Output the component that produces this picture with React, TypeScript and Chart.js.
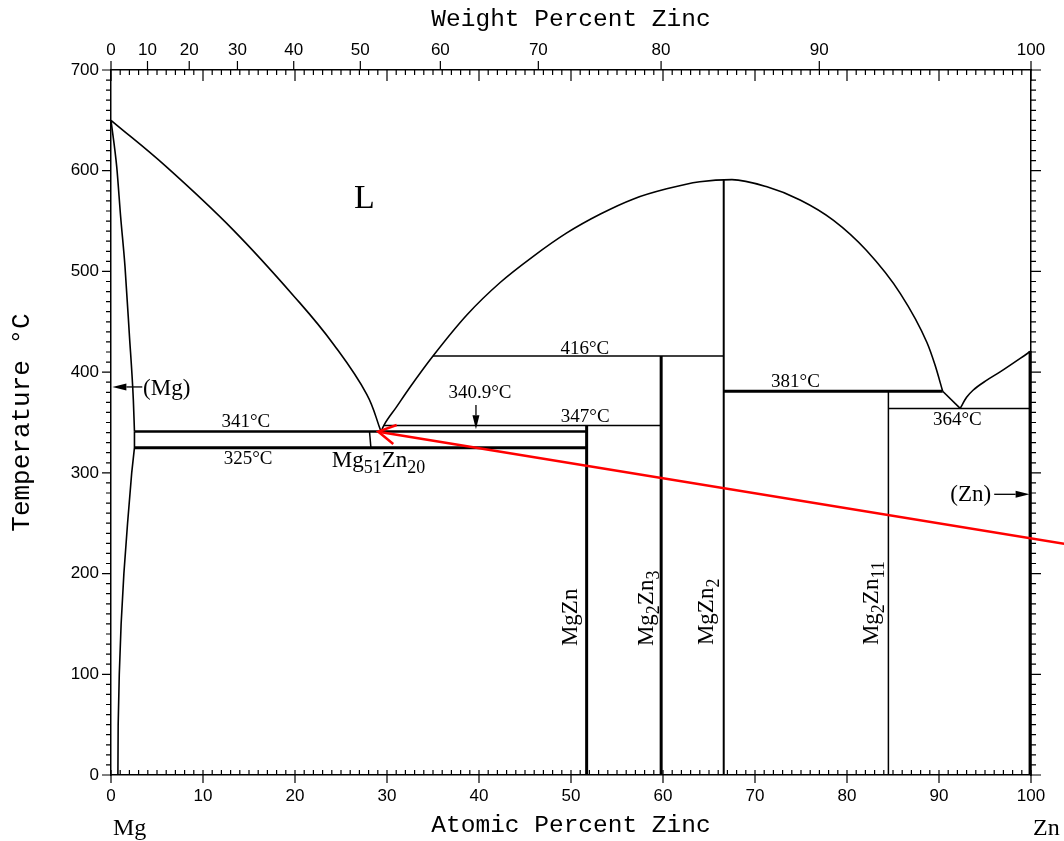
import React, { useEffect, useRef } from "react";
import { Chart, registerables } from "chart.js";
Chart.register(...registerables);

// ---- axis data ----
const MG_MASS = 24.305;
const ZN_MASS = 65.38;
const wtTicks = [0, 10, 20, 30, 40, 50, 60, 70, 80, 90, 100];
const wtToAt = (w: number) => {
  if (w >= 100) return 100;
  const a = w / ZN_MASS;
  const b = (100 - w) / MG_MASS;
  return (100 * a) / (a + b);
};
const wtTickPositions = wtTicks.map(wtToAt);

// ---- phase boundary data (atomic % Zn, °C) ----
const mgLiquidus = [[0, 650], [6.0, 604], [13.3, 541], [20.5, 469], [24.2, 427.5], [27.8, 378], [29.35, 341]];
const mgSolidus = [[0, 650], [0.62, 604], [1.05, 554], [1.52, 505], [1.99, 438], [2.43, 372], [2.55, 341]];
const mgSolvus = [[2.55, 341], [2.55, 325], [2.25, 300], [1.8, 250], [1.4, 200], [1.1, 150], [0.9, 100], [0.78, 50], [0.75, 0]];
const mgZn2Liquidus = [[29.35, 341], [29.65, 347], [31.0, 365], [32.5, 385], [35.0, 416], [38.7, 457], [42.3, 489], [45.9, 515], [49.5, 538], [53.2, 557], [56.8, 572], [60.4, 582], [64.0, 589], [67.5, 591.2], [71.3, 584], [74.9, 571], [78.5, 551], [82.1, 521], [85.8, 478], [88.7, 429.2], [89.57, 407], [90.4, 381]];
const znEutecticLeft = [[90.4, 381], [92.3, 364]];
const znLiquidus = [[92.3, 364], [93.0, 375], [93.7, 382], [95.2, 392], [96.6, 400], [100, 421]];
const line325 = [[2.55, 325], [51.7, 325]];
const line341 = [[2.55, 341], [51.7, 341]];
const line347 = [[29.65, 347], [59.8, 347]];
const line416 = [[35.0, 416], [66.6, 416]];
const line381 = [[66.6, 381], [90.4, 381]];
const line364 = [[84.5, 364], [100, 364]];
const mg51Zn20Line = [[28.1, 341], [28.25, 325]];
const mgZnLine = [[51.7, 0], [51.7, 347]];
const mg2Zn3Line = [[59.8, 0], [59.8, 416]];
const mgZn2Line = [[66.6, 0], [66.6, 591]];
const mg2Zn11Line = [[84.5, 0], [84.5, 381]];
const znSideLine = [[99.9, 0], [99.9, 421]];
const redArrowShaft = [[29.05, 340.9], [103.6, 229.5]];
const redArrowHead = [[31.05, 347.5], [29.05, 340.9], [30.68, 328.6]];

// ---- annotation data ----
const tempLabels = [
  { text: "416°C", x: 51.5, y: 423.2 },
  { text: "340.9°C", x: 40.1, y: 379.3 },
  { text: "347°C", x: 51.55, y: 355 },
  { text: "341°C", x: 14.65, y: 350.3 },
  { text: "325°C", x: 14.9, y: 313.6 },
  { text: "381°C", x: 74.4, y: 390.5 },
  { text: "364°C", x: 92.0, y: 352.2 },
];
const phaseLabels = [
  { text: "L", x: 27.55, y: 571.4, size: 34 },
  { text: "(Mg)", x: 6.05, y: 383.5, size: 23 },
  { text: "(Zn)", x: 93.45, y: 278, size: 23 },
];
type Part = [string, number];
const compoundLabels: { parts: Part[]; x: number; y: number }[] = [
  { parts: [["Mg", 0], ["Zn", 0]], x: 50.65, y: 128 },
  { parts: [["Mg", 0], ["2", 1], ["Zn", 0], ["3", 1]], x: 58.88, y: 128 },
  { parts: [["Mg", 0], ["Zn", 0], ["2", 1]], x: 65.47, y: 129 },
  { parts: [["Mg", 0], ["2", 1], ["Zn", 0], ["11", 1]], x: 83.4, y: 129 },
];
const mg51Label: { parts: Part[]; x: number; y: number } = {
  parts: [["Mg", 0], ["51", 1], ["Zn", 0], ["20", 1]],
  x: 24.0,
  y: 306,
};
const arrows = [
  { from: [3.4, 385.3], to: [0.15, 385.3] },
  { from: [96.0, 278.7], to: [99.85, 278.7] },
  { from: [39.67, 367.4], to: [39.67, 343.2] },
];

const SERIF = '"Liberation Serif", "Times New Roman", serif';
const SANS = '"Liberation Sans", Arial, sans-serif';
const MONO = '"Liberation Mono", "Courier New", monospace';

function drawRich(ctx: CanvasRenderingContext2D, parts: Part[], x: number, y: number, size: number, rotate: boolean) {
  ctx.save();
  ctx.translate(x, y);
  if (rotate) ctx.rotate(-Math.PI / 2);
  ctx.textAlign = "left";
  ctx.textBaseline = "alphabetic";
  let cx = 0;
  for (const [t, sub] of parts) {
    const fs = sub ? size * 0.78 : size;
    ctx.font = `${fs}px ${SERIF}`;
    ctx.fillText(t, cx, sub ? size * 0.26 : 0);
    cx += ctx.measureText(t).width;
  }
  ctx.restore();
}

const decorPlugin = {
  id: "decor",
  afterDatasetsDraw(chart: any) {
    const { ctx, scales } = chart;
    const xs = scales.x;
    const ys = scales.y;
    ctx.save();
    ctx.fillStyle = "#000";
    ctx.strokeStyle = "#000";
    ctx.font = `19px ${SERIF}`;
    ctx.textAlign = "center";
    ctx.textBaseline = "middle";
    for (const l of tempLabels) {
      ctx.fillText(l.text, xs.getPixelForValue(l.x), ys.getPixelForValue(l.y));
    }
    for (const l of phaseLabels) {
      ctx.font = `${l.size}px ${SERIF}`;
      ctx.fillText(l.text, xs.getPixelForValue(l.x), ys.getPixelForValue(l.y));
    }
    for (const c of compoundLabels) {
      drawRich(ctx, c.parts, xs.getPixelForValue(c.x), ys.getPixelForValue(c.y), 23, true);
    }
    drawRich(ctx, mg51Label.parts, xs.getPixelForValue(mg51Label.x), ys.getPixelForValue(mg51Label.y), 23, false);
    ctx.lineWidth = 1.3;
    for (const a of arrows) {
      const x1 = xs.getPixelForValue(a.from[0]);
      const y1 = ys.getPixelForValue(a.from[1]);
      const x2 = xs.getPixelForValue(a.to[0]);
      const y2 = ys.getPixelForValue(a.to[1]);
      const ang = Math.atan2(y2 - y1, x2 - x1);
      const hl = 14;
      const hw = 3.5;
      ctx.beginPath();
      ctx.moveTo(x1, y1);
      ctx.lineTo(x2 - hl * Math.cos(ang), y2 - hl * Math.sin(ang));
      ctx.stroke();
      ctx.beginPath();
      ctx.moveTo(x2, y2);
      ctx.lineTo(x2 - hl * Math.cos(ang) - hw * Math.sin(ang), y2 - hl * Math.sin(ang) + hw * Math.cos(ang));
      ctx.lineTo(x2 - hl * Math.cos(ang) + hw * Math.sin(ang), y2 - hl * Math.sin(ang) - hw * Math.cos(ang));
      ctx.closePath();
      ctx.fill();
    }
    ctx.font = `24px ${SERIF}`;
    ctx.textAlign = "left";
    ctx.textBaseline = "middle";
    ctx.fillText("Mg", xs.getPixelForValue(0) + 2, chart.chartArea.bottom + 54);
    ctx.fillText("Zn", xs.getPixelForValue(100) + 2, chart.chartArea.bottom + 54);
    ctx.restore();
  },
  afterDraw(chart: any) {
    const { ctx, chartArea: ca, scales } = chart;
    const xs = scales.x;
    const ys = scales.y;
    ctx.save();
    ctx.strokeStyle = "#000";
    ctx.lineWidth = 1.2;
    ctx.beginPath();
    for (let v = 0; v <= 100; v++) {
      const px = xs.getPixelForValue(v);
      ctx.moveTo(px, ca.bottom);
      ctx.lineTo(px, ca.bottom - 5);
      ctx.moveTo(px, ca.top);
      ctx.lineTo(px, ca.top + (v % 10 === 0 ? 11 : 5));
      if (v % 10 === 0) {
        ctx.moveTo(px, ca.bottom);
        ctx.lineTo(px, ca.bottom + 8);
      }
    }
    for (const a of wtTickPositions) {
      const px = xs.getPixelForValue(a);
      ctx.moveTo(px, ca.top);
      ctx.lineTo(px, ca.top - 9);
    }
    for (let t = 0; t <= 700; t += 10) {
      const py = ys.getPixelForValue(t);
      const major = t % 100 === 0;
      ctx.moveTo(ca.left, py);
      ctx.lineTo(ca.left - (major ? 9 : 5), py);
      ctx.moveTo(ca.right, py);
      ctx.lineTo(ca.right + (major ? 10 : 5), py);
    }
    ctx.stroke();
    ctx.restore();
  },
};

function ds(points: number[][], width: number, mode: "none" | "spline" | "monotone" = "none", color = "#000") {
  return {
    data: points.map(([x, y]) => ({ x, y })),
    showLine: true,
    borderColor: color,
    borderWidth: width,
    pointRadius: 0,
    pointHoverRadius: 0,
    tension: mode === "none" ? 0 : 0.4,
    cubicInterpolationMode: mode === "monotone" ? "monotone" : "default",
    fill: false,
    clip: false as any,
  };
}

export default function App() {
  const ref = useRef<HTMLCanvasElement>(null);
  useEffect(() => {
    if (!ref.current) return;
    Chart.defaults.color = "#000";
    const border = { display: true, color: "#000", width: 1.5 };
    const tickFont = { family: SANS, size: 17 };
    const titleFont = { family: MONO, size: 24.5 };
    const chart = new Chart(ref.current, {
      type: "scatter",
      data: {
        datasets: [
          ds(redArrowShaft, 2.5, "none", "#ff0000"),
          ds(redArrowHead, 2.5, "none", "#ff0000"),
          ds(mgLiquidus, 1.6, "spline"),
          ds(mgSolidus, 1.6, "monotone"),
          ds(mgSolvus, 1.6, "none"),
          ds(mgZn2Liquidus, 1.6, "monotone"),
          ds(znEutecticLeft, 1.6, "none"),
          ds(znLiquidus, 1.6, "monotone"),
          ds(line325, 3),
          ds(line341, 2.5),
          ds(line347, 1.5),
          ds(line416, 1.5),
          ds(line381, 3),
          ds(line364, 1.5),
          ds(mg51Zn20Line, 1.5),
          ds(mgZnLine, 3),
          ds(mg2Zn3Line, 3),
          ds(mgZn2Line, 2),
          ds(mg2Zn11Line, 1.5),
          ds(znSideLine, 3),
        ] as any,
      },
      options: {
        responsive: false,
        animation: false,
        events: [],
        layout: { padding: 0 },
        plugins: { legend: { display: false }, tooltip: { enabled: false } },
        scales: {
          x: {
            type: "linear",
            position: "bottom",
            min: 0,
            max: 100,
            grid: { display: false, drawTicks: false },
            border,
            ticks: { stepSize: 10, padding: 11, font: tickFont, color: "#000", autoSkip: false, maxRotation: 0 },
            title: { display: true, text: "Atomic Percent Zinc", font: titleFont, color: "#000", padding: { top: 0, bottom: 1 } },
            afterFit: (s: any) => { s.height = 66; },
          },
          x2: {
            type: "linear",
            position: "top",
            min: 0,
            max: 100,
            grid: { display: false, drawTicks: false },
            border,
            afterBuildTicks: (s: any) => { s.ticks = wtTickPositions.map((v) => ({ value: v })); },
            ticks: {
              padding: 9,
              font: tickFont,
              color: "#000",
              autoSkip: false,
              maxRotation: 0,
              callback: (_v: any, i: number) => String(wtTicks[i]),
            },
            title: { display: true, text: "Weight Percent Zinc", font: titleFont, color: "#000", padding: { top: 5, bottom: 0 } },
            afterFit: (s: any) => { s.height = 70; },
          },
          y: {
            type: "linear",
            position: "left",
            min: 0,
            max: 700,
            grid: { display: false, drawTicks: false },
            border,
            ticks: { stepSize: 100, padding: 12, font: tickFont, color: "#000" },
            title: { display: true, text: "Temperature °C", font: { family: MONO, size: 26 }, color: "#000", padding: { top: 7, bottom: 0 } },
            afterFit: (s: any) => { s.width = 111; },
          },
          y2: {
            type: "linear",
            position: "right",
            min: 0,
            max: 700,
            grid: { display: false, drawTicks: false },
            border,
            ticks: { display: false, stepSize: 100 },
            afterFit: (s: any) => { s.width = 33; },
          },
        },
      } as any,
      plugins: [decorPlugin],
    });
    return () => chart.destroy();
  }, []);
  return (
    <div style={{ position: "absolute", left: 0, top: 0, width: 1064, height: 841, background: "#fff", overflow: "hidden" }}>
      <canvas ref={ref} width={1064} height={841} style={{ display: "block" }} />
    </div>
  );
}
